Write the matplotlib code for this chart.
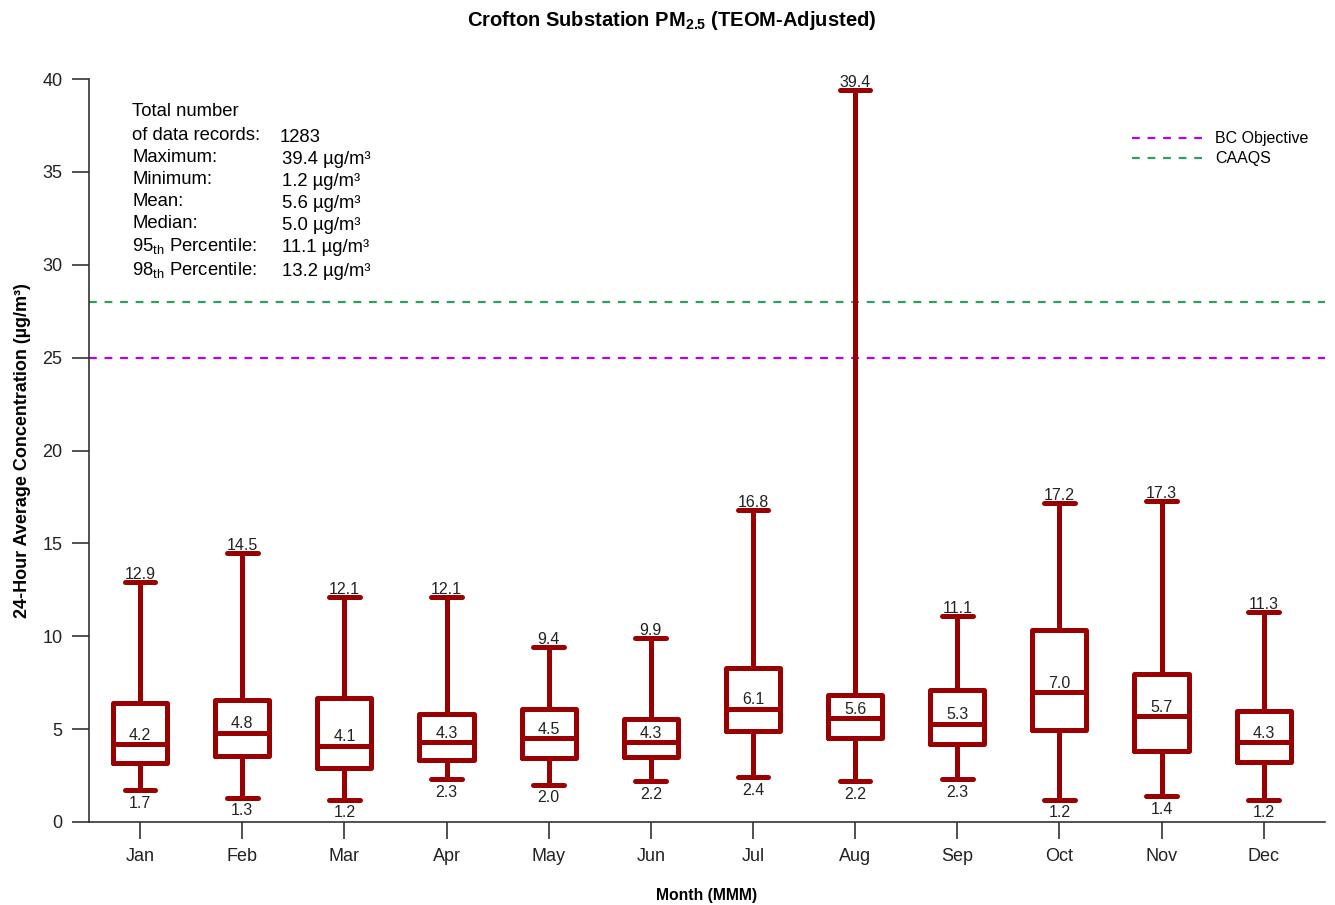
import numpy as np
import matplotlib
matplotlib.use("Agg")
import matplotlib.pyplot as plt

plt.rcParams['font.family'] = ['Liberation Sans', 'DejaVu Sans']
plt.rcParams['mathtext.default'] = 'regular'

months = ['Jan', 'Feb', 'Mar', 'Apr', 'May', 'Jun',
          'Jul', 'Aug', 'Sep', 'Oct', 'Nov', 'Dec']
maxima = [12.9, 14.5, 12.1, 12.1, 9.4, 9.9, 16.8, 39.4, 11.1, 17.2, 17.3, 11.3]
minima = [1.7, 1.3, 1.2, 2.3, 2.0, 2.2, 2.4, 2.2, 2.3, 1.2, 1.4, 1.2]
medians = [4.2, 4.8, 4.1, 4.3, 4.5, 4.3, 6.1, 5.6, 5.3, 7.0, 5.7, 4.3]
q1 = [3.2, 3.55, 2.9, 3.35, 3.45, 3.5, 4.9, 4.5, 4.2, 4.95, 3.8, 3.25]
q3 = [6.4, 6.55, 6.7, 5.8, 6.1, 5.55, 8.3, 6.85, 7.1, 10.35, 7.95, 6.0]

bc_objective = 25
caaqs = 28

stats_labels = ['Maximum:', 'Minimum:', 'Mean:', 'Median:',
                '95$_{th}$ Percentile:', '98$_{th}$ Percentile:']
stats_values = [39.4, 1.2, 5.6, 5.0, 11.1, 13.2]
n_records = 1283

box_color = '#990000'
axis_color = '#333333'

fig = plt.figure(figsize=(13.35, 9.05), dpi=100)
ax = fig.add_axes([89 / 1335, 1 - 822 / 905, (1325 - 89) / 1335, (822 - 79) / 905])

pos = np.arange(1, len(months) + 1)
bstats = [dict(med=m, q1=a, q3=b, whislo=lo, whishi=hi, fliers=[])
          for m, a, b, lo, hi in zip(medians, q1, q3, minima, maxima)]
line = dict(color=box_color, linewidth=3.6, solid_capstyle='round', solid_joinstyle='round')
ax.bxp(bstats, positions=pos, widths=0.53, capwidths=0.3, showfliers=False,
       boxprops=line, whiskerprops=line, capprops=line, medianprops=line,
       manage_ticks=False, zorder=3)

ax.axhline(bc_objective, color='#b300e6', ls=(0, (3.5, 3.5)), lw=1.6, label='BC Objective', zorder=2)
ax.axhline(caaqs, color='#2e9e62', ls=(0, (3.5, 3.5)), lw=1.6, label='CAAQS', zorder=2)

lab_fs = 11.5
for x, hi, lo, md in zip(pos, maxima, minima, medians):
    ax.annotate(f'{hi:.1f}', (x, hi), xytext=(0, 0), textcoords='offset points',
                ha='center', va='bottom', fontsize=lab_fs, color='#222222', zorder=4)
    ax.annotate(f'{lo:.1f}', (x, lo), xytext=(0, -4), textcoords='offset points',
                ha='center', va='top', fontsize=lab_fs, color='#222222', zorder=4)
    ax.annotate(f'{md:.1f}', (x, md), xytext=(0, 1), textcoords='offset points',
                ha='center', va='bottom', fontsize=lab_fs, color='#222222', zorder=4)

ax.set_xlim(0.5, 12.6)
ax.set_ylim(0, 40)
ax.set_xticks(pos)
ax.set_xticklabels(months)
ax.set_yticks(np.arange(0, 41, 5))
ax.tick_params(axis='both', direction='out', length=12, width=1.2, color=axis_color,
               labelsize=13, labelcolor='#222222')
ax.tick_params(axis='x', pad=7)
ax.tick_params(axis='y', pad=7)
for s in ['top', 'right']:
    ax.spines[s].set_visible(False)
for s in ['left', 'bottom']:
    ax.spines[s].set_color(axis_color)
    ax.spines[s].set_linewidth(1.2)

ax.set_ylabel('24-Hour Average Concentration (µg/m³)', fontsize=13, fontweight='bold', labelpad=8)
ax.set_xlabel('Month (MMM)', fontsize=11.3, fontweight='bold', labelpad=16)
fig.suptitle('Crofton Substation PM$_{2.5}$ (TEOM-Adjusted)', x=0.503, y=0.99,
             fontsize=14.5, fontweight='bold', family=['Liberation Sans Narrow', 'Liberation Sans'])

leg = ax.legend(loc='upper left', bbox_to_anchor=(1118 / 1335, 1 - 117 / 905),
                bbox_transform=fig.transFigure, frameon=False, fontsize=11.5,
                handlelength=4.6, handletextpad=0.6, labelspacing=0.3)

# summary statistics block
fs = 13.3
fig.text(132 / 1335, 1 - 111 / 905, 'Total number', fontsize=fs, va='center')
fig.text(132 / 1335, 1 - 135 / 905, 'of data records:', fontsize=fs, va='center')
fig.text(280 / 1335, 1 - 138 / 905, f'{n_records}', fontsize=fs, va='center')
ys = [158, 180, 202, 223, 246, 270]
for y, lab, val in zip(ys, stats_labels, stats_values):
    fig.text(132 / 1335, 1 - y / 905, lab, fontsize=fs, va='center')
    fig.text(282 / 1335, 1 - (y + 2) / 905, f'{val:.1f} µg/m³', fontsize=fs, va='center')

fig.savefig('out.png', dpi=100)
